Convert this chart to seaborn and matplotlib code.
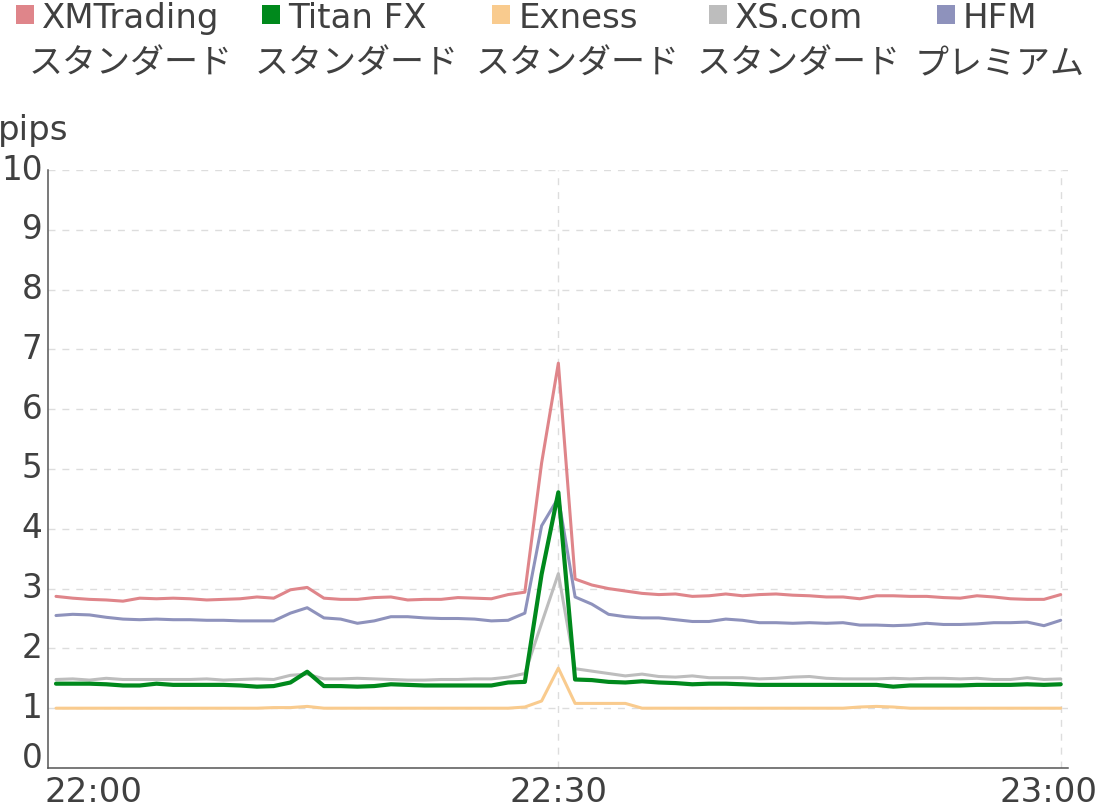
import matplotlib
matplotlib.use("Agg")
import matplotlib.pyplot as plt
import seaborn as sns
import pandas as pd
from matplotlib.patches import Rectangle
from matplotlib.transforms import ScaledTranslation

# ---- data (minutes after 22:00, spread in pips) ----
minutes = list(range(61))

xmtrading = [2.87, 2.84, 2.82, 2.81, 2.79, 2.84, 2.83, 2.84, 2.83, 2.81,
             2.82, 2.83, 2.86, 2.84, 2.98, 3.02, 2.84, 2.82, 2.82, 2.85,
             2.86, 2.81, 2.82, 2.82, 2.85, 2.84, 2.83, 2.90, 2.94, 5.10,
             6.77, 3.16, 3.06, 3.00, 2.96, 2.92, 2.90, 2.91, 2.87, 2.88,
             2.91, 2.88, 2.90, 2.91, 2.89, 2.88, 2.86, 2.86, 2.83, 2.88,
             2.88, 2.87, 2.87, 2.85, 2.84, 2.88, 2.86, 2.83, 2.82, 2.82,
             2.90]

titanfx = [1.41, 1.41, 1.41, 1.40, 1.38, 1.38, 1.41, 1.39, 1.39, 1.39,
           1.39, 1.38, 1.36, 1.37, 1.43, 1.61, 1.37, 1.37, 1.36, 1.37,
           1.40, 1.39, 1.38, 1.38, 1.38, 1.38, 1.38, 1.43, 1.44, 3.24,
           4.61, 1.48, 1.47, 1.44, 1.43, 1.45, 1.43, 1.42, 1.40, 1.41,
           1.41, 1.40, 1.39, 1.39, 1.39, 1.39, 1.39, 1.39, 1.39, 1.39,
           1.36, 1.38, 1.38, 1.38, 1.38, 1.39, 1.39, 1.39, 1.40, 1.39,
           1.40]

exness = [1.00, 1.00, 1.00, 1.00, 1.00, 1.00, 1.00, 1.00, 1.00, 1.00,
          1.00, 1.00, 1.00, 1.01, 1.01, 1.03, 1.00, 1.00, 1.00, 1.00,
          1.00, 1.00, 1.00, 1.00, 1.00, 1.00, 1.00, 1.00, 1.02, 1.12,
          1.67, 1.08, 1.08, 1.08, 1.08, 1.00, 1.00, 1.00, 1.00, 1.00,
          1.00, 1.00, 1.00, 1.00, 1.00, 1.00, 1.00, 1.00, 1.02, 1.03,
          1.02, 1.00, 1.00, 1.00, 1.00, 1.00, 1.00, 1.00, 1.00, 1.00,
          1.00]

xscom = [1.48, 1.49, 1.47, 1.50, 1.48, 1.48, 1.48, 1.48, 1.48, 1.49,
         1.47, 1.48, 1.49, 1.48, 1.55, 1.57, 1.49, 1.49, 1.50, 1.49,
         1.48, 1.47, 1.47, 1.48, 1.48, 1.49, 1.49, 1.52, 1.58, 2.42,
         3.25, 1.66, 1.62, 1.58, 1.54, 1.57, 1.53, 1.52, 1.54, 1.51,
         1.51, 1.51, 1.49, 1.50, 1.52, 1.53, 1.50, 1.49, 1.49, 1.49,
         1.50, 1.49, 1.50, 1.50, 1.49, 1.50, 1.48, 1.48, 1.51, 1.48,
         1.49]

hfm = [2.55, 2.57, 2.56, 2.52, 2.49, 2.48, 2.49, 2.48, 2.48, 2.47,
       2.47, 2.46, 2.46, 2.46, 2.59, 2.68, 2.51, 2.49, 2.42, 2.46,
       2.53, 2.53, 2.51, 2.50, 2.50, 2.49, 2.46, 2.47, 2.59, 4.05,
       4.52, 2.86, 2.74, 2.57, 2.53, 2.51, 2.51, 2.48, 2.45, 2.45,
       2.49, 2.47, 2.43, 2.43, 2.42, 2.43, 2.42, 2.43, 2.39, 2.39,
       2.38, 2.39, 2.42, 2.40, 2.40, 2.41, 2.43, 2.43, 2.44, 2.38,
       2.47]

broker_line1 = ["XMTrading", "Titan FX", "Exness", "XS.com", "HFM"]
broker_line2 = ["スタンダード", "スタンダード", "スタンダード", "スタンダード", "プレミアム"]
broker_colors = ["#df858a", "#00891c", "#f9cb8e", "#bdbdbd", "#8e92bc"]

x_tick_pos = [0, 30, 60]
x_tick_labels = ["22:00", "22:30", "23:00"]
y_ticks = list(range(0, 11))
y_label = "pips"

series = [xmtrading, titanfx, exness, xscom, hfm]
df = pd.DataFrame({
    "minute": minutes * len(series),
    "spread": [v for s in series for v in s],
    "broker": [b for b, s in zip(broker_line1, series) for _ in s],
})

# ---- style ----
sns.set_style("white")
plt.rcParams["font.family"] = ["DejaVu Sans", "Noto Sans CJK JP"]
TXT = "#404040"
FS = 24.5
FS_Y = 23.5
W, H = 1100, 807

fig = plt.figure(figsize=(W / 100, H / 100), dpi=100)
ax = fig.add_axes([48 / W, 1 - 768 / H, 1020 / W, 598 / H])

draw_order = ["XMTrading", "Exness", "XS.com", "HFM", "Titan FX"]
for z, name in enumerate(draw_order):
    i = broker_line1.index(name)
    sub = df[df["broker"] == name]
    sns.lineplot(data=sub, x="minute", y="spread", ax=ax, color=broker_colors[i],
                 lw=3.0 if name == "Titan FX" else 2.2, legend=False, zorder=3 + z)

ax.set_xlim(-0.478, 60.436)
ax.set_ylim(0, 10)
ax.set_xticks(x_tick_pos)
ax.set_xticklabels(x_tick_labels)
ax.set_yticks(y_ticks)
ax.set_yticklabels([str(v) for v in y_ticks])
ax.set_xlabel("")
ax.set_ylabel("")

ax.set_axisbelow(True)
ax.grid(True, axis="y", color="#dddddd", lw=1.0, ls=(0, (5, 5)))
for xp in x_tick_pos[1:]:
    ax.axvline(xp, color="#dddddd", lw=1.0, ls=(0, (5, 5)), zorder=0.5)

for s in ["top", "right"]:
    ax.spines[s].set_visible(False)
for s in ["left", "bottom"]:
    ax.spines[s].set_color("#555555")
    ax.spines[s].set_linewidth(1.1)

ax.tick_params(axis="both", length=0, labelcolor=TXT)
ax.tick_params(axis="x", pad=5.5, labelsize=FS)
ax.tick_params(axis="y", pad=4.0, labelsize=FS_Y)

ylabs = ax.get_yticklabels()
for lab in ylabs:
    lab.set_verticalalignment("center")
ylabs[0].set_verticalalignment("baseline")

xlabs = ax.get_xticklabels()
xlabs[0].set_horizontalalignment("left")
xlabs[0].set_transform(xlabs[0].get_transform() + ScaledTranslation(-12 / 100, 0, fig.dpi_scale_trans))
xlabs[2].set_transform(xlabs[2].get_transform() + ScaledTranslation(-12 / 100, 0, fig.dpi_scale_trans))

# y axis title
fig.text(-2 / W, 1 - 140 / H, y_label, ha="left", va="baseline", fontsize=FS, color=TXT)

# ---- legend (two-line labels, centred, square marker before the first line) ----
centers = [131, 357, 578, 799, 1000]
first_texts = []
for cx, l1, l2 in zip(centers, broker_line1, broker_line2):
    t1 = fig.text(cx / W, 1 - 28 / H, l1, ha="center", va="baseline", fontsize=FS, color=TXT)
    fig.text(cx / W, 1 - 74 / H, l2, ha="center", va="baseline", fontsize=FS, color=TXT,
             family=["Noto Sans CJK JP", "DejaVu Sans"])
    first_texts.append(t1)

fig.canvas.draw()
renderer = fig.canvas.get_renderer()
for t, col in zip(first_texts, broker_colors):
    bb = t.get_window_extent(renderer)
    x1 = bb.x0 - 8
    x0 = x1 - 18
    y_top = H - 5
    y_bot = H - 24
    rect = Rectangle((x0 / W, y_bot / H), (x1 - x0) / W, (y_top - y_bot) / H,
                     transform=fig.transFigure, facecolor=col, edgecolor="none")
    fig.add_artist(rect)

fig.savefig("out.png", dpi=100)
